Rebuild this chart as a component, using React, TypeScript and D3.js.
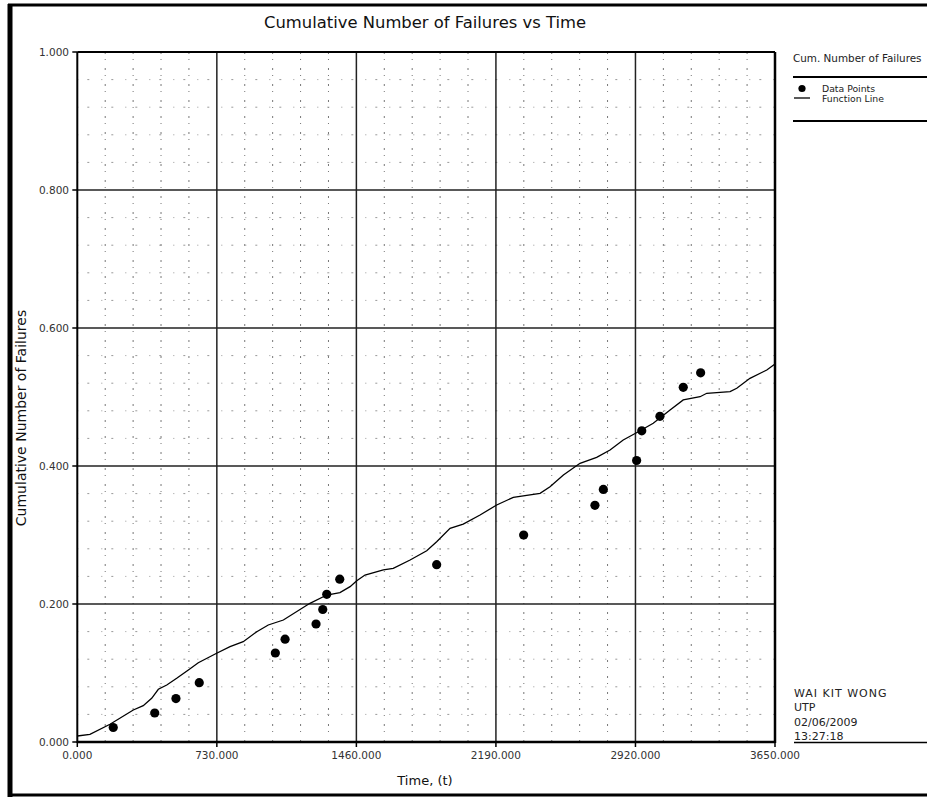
import React from "react";
import * as d3 from "d3";

// ---- Data ----
const pointTimes = [188, 405, 516, 638, 1036, 1087, 1249, 1284, 1305, 1373, 1880, 2335, 2708, 2752, 2926, 2953, 3048, 3170, 3261];
const pointValues = [0.021, 0.042, 0.063, 0.086, 0.129, 0.149, 0.171, 0.192, 0.214, 0.236, 0.257, 0.300, 0.343, 0.366, 0.408, 0.451, 0.472, 0.514, 0.535];

const lineTimes = [0, 66, 171, 293, 345, 389, 424, 468, 520, 581, 633, 729, 799, 868, 939, 999, 1078, 1217, 1305, 1374, 1427, 1462, 1505, 1601, 1653, 1741, 1828, 1880, 1950, 2019, 2107, 2194, 2281, 2421, 2473, 2543, 2630, 2717, 2787, 2856, 2935, 3013, 3101, 3170, 3258, 3293, 3415, 3450, 3519, 3607, 3650];
const lineValues = [0.0087, 0.0112, 0.0257, 0.0464, 0.0526, 0.0633, 0.0764, 0.0826, 0.0923, 0.1043, 0.1149, 0.1286, 0.1381, 0.1454, 0.1599, 0.1696, 0.1768, 0.2010, 0.2130, 0.2164, 0.2251, 0.2338, 0.2420, 0.2493, 0.2517, 0.2638, 0.2772, 0.2903, 0.3097, 0.3159, 0.3290, 0.3435, 0.3546, 0.3604, 0.3700, 0.3870, 0.4039, 0.4126, 0.4232, 0.4377, 0.4497, 0.4619, 0.4812, 0.4957, 0.5004, 0.5054, 0.5077, 0.5126, 0.5271, 0.5391, 0.5478];

const xTicks = [0, 730, 1460, 2190, 2920, 3650];
const yTicks = [0, 0.2, 0.4, 0.6, 0.8, 1.0];
const xMinorStep = 146;
const yMinorStep = 0.04;

const title = "Cumulative Number of Failures vs Time";
const xLabel = "Time, (t)";
const yLabel = "Cumulative Number of Failures";
const legendTitle = "Cum. Number of Failures";
const legendItems = ["Data Points", "Function Line"];
const stampLines = ["WAI KIT WONG", "UTP", "02/06/2009", "13:27:18"];

export default function App() {
  const W = 927, H = 798;
  const left = 77.3, right = 775, top = 52, bottom = 742;
  const x = d3.scaleLinear().domain([0, 3650]).range([left, right]);
  const y = d3.scaleLinear().domain([0, 1]).range([bottom, top]);

  const xMinor = d3.range(0, 3650 + 1, xMinorStep).filter((v) => v % 730 !== 0);
  const yMinor = d3.range(0, 1.0001, yMinorStep).filter((v) => Math.abs(v / 0.2 - Math.round(v / 0.2)) > 1e-6);

  const lineGen = d3.line<number>().x((_, i) => x(lineTimes[i])).y((d) => y(d));
  const path = lineGen(lineValues) || "";

  const font = "'DejaVu Sans', Verdana, sans-serif";
  const fmt = d3.format(".3f");

  return (
    <svg width={W} height={H} style={{ position: "absolute", left: 0, top: 0, background: "#fff" }} fontFamily={font}>
      <rect x={0} y={0} width={W} height={H} fill="#fff" />
      {/* outer frame */}
      <line x1={10} y1={4} x2={10} y2={797} stroke="#000" strokeWidth={5} />
      <line x1={8} y1={5} x2={W} y2={5} stroke="#000" strokeWidth={3} />
      <line x1={8} y1={795} x2={W} y2={795} stroke="#000" strokeWidth={3} />

      {/* title */}
      <text x={425} y={28} textAnchor="middle" fontSize={16.4} fill="#111">{title}</text>

      {/* minor grid */}
      {xMinor.map((v) => (
        <line key={"xm" + v} x1={x(v)} x2={x(v)} y1={top} y2={bottom} stroke="#777" strokeWidth={1} strokeDasharray="2 5 1 8" />
      ))}
      {yMinor.map((v) => (
        <line key={"ym" + v} x1={left} x2={right} y1={y(v)} y2={y(v)} stroke="#999" strokeWidth={1} strokeDasharray="1 9 2 12" />
      ))}

      {/* major grid */}
      {xTicks.slice(1, -1).map((v) => (
        <line key={"xg" + v} x1={x(v)} x2={x(v)} y1={top} y2={bottom} stroke="#222" strokeWidth={1.5} />
      ))}
      {yTicks.slice(1, -1).map((v) => (
        <line key={"yg" + v} x1={left} x2={right} y1={y(v)} y2={y(v)} stroke="#222" strokeWidth={1.5} />
      ))}

      {/* plot frame */}
      <line x1={left} x2={left} y1={top} y2={bottom + 1} stroke="#000" strokeWidth={2} />
      <line x1={left} x2={right} y1={bottom} y2={bottom} stroke="#000" strokeWidth={2.5} />
      <line x1={right} x2={right} y1={top} y2={bottom + 1} stroke="#000" strokeWidth={2.5} />
      <line x1={left} x2={right} y1={top} y2={top} stroke="#000" strokeWidth={2} />

      {/* ticks & labels */}
      {xTicks.map((v) => (
        <g key={"xt" + v}>
          <line x1={x(v)} x2={x(v)} y1={bottom} y2={bottom + 5} stroke="#000" strokeWidth={1.5} />
          <text x={x(v)} y={759} textAnchor="middle" fontSize={10.5} fill="#333">{fmt(v)}</text>
        </g>
      ))}
      {yTicks.map((v) => (
        <g key={"yt" + v}>
          <line x1={left - 5} x2={left} y1={y(v)} y2={y(v)} stroke="#000" strokeWidth={1.5} />
          <text x={69} y={y(v) + 4} textAnchor="end" fontSize={10.5} fill="#333">{fmt(v)}</text>
        </g>
      ))}

      {/* axis labels */}
      <text x={425} y={785} textAnchor="middle" fontSize={13} fill="#111">{xLabel}</text>
      <text transform={`translate(26,418) rotate(-90)`} textAnchor="middle" fontSize={14} fill="#111">{yLabel}</text>

      {/* function line */}
      <path d={path} fill="none" stroke="#000" strokeWidth={1.3} />

      {/* data points */}
      {pointValues.map((v, i) => (
        <circle key={"p" + i} cx={x(pointTimes[i])} cy={y(v)} r={4.6} fill="#000" />
      ))}

      {/* legend */}
      <text x={793} y={62} fontSize={10.4} fill="#222">{legendTitle}</text>
      <line x1={793} x2={W} y1={77} y2={77} stroke="#000" strokeWidth={2} />
      <circle cx={802} cy={88.5} r={3.6} fill="#000" />
      <text x={822} y={91.5} fontSize={9.3} fill="#222">{legendItems[0]}</text>
      <line x1={794} x2={810} y1={98} y2={98} stroke="#000" strokeWidth={1.3} />
      <text x={822} y={101.5} fontSize={9.3} fill="#222">{legendItems[1]}</text>
      <line x1={793} x2={W} y1={121} y2={121} stroke="#000" strokeWidth={2} />

      {/* stamp */}
      {stampLines.map((s, i) => (
        <text key={"s" + i} x={794} y={697 + i * 14.3} fontSize={11} fill="#222" letterSpacing={i === 0 ? 1 : 0}>{s}</text>
      ))}
      <line x1={794} x2={W} y1={742.5} y2={742.5} stroke="#000" strokeWidth={1.5} />
    </svg>
  );
}
